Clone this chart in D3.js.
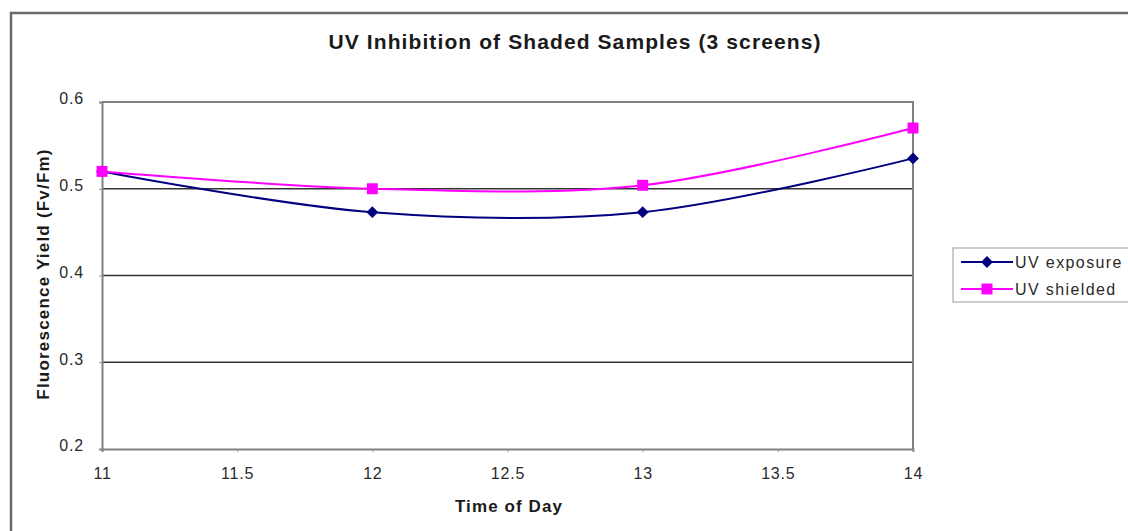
<!DOCTYPE html>
<html><head><meta charset="utf-8">
<script src="https://cdn.jsdelivr.net/npm/d3@7"></script>
<style>body{margin:0;background:#fff;} text{font-family:Arial,"Liberation Sans",sans-serif;}</style>
</head><body>
<svg id="c" width="1128" height="531"></svg>
<script>
const times = [11, 12, 13, 14];
const uvExposure = [0.52, 0.473, 0.473, 0.535];
const uvShielded = [0.52, 0.50, 0.504, 0.570];
const xTicks = [11, 11.5, 12, 12.5, 13, 13.5, 14];
const yTicks = [0.2, 0.3, 0.4, 0.5, 0.6];
const seriesNames = ["UV exposure", "UV shielded"];
const seriesColors = ["#000080", "#ff00ff"];

const FONT = "Arial, 'Liberation Sans', sans-serif";
const svg = d3.select("#c");
const L = 102, R = 913, T = 102, B = 449;
const x = d3.scaleLinear().domain([11, 14]).range([L, R]);
const y = d3.scaleLinear().domain([0.2, 0.6]).range([B, T]);

// outer frame
svg.append("rect").attr("x", 11).attr("y", 13).attr("width", 1130).attr("height", 540)
  .attr("fill", "#fff").attr("stroke", "#6a6a6a").attr("stroke-width", 2.5);

// title
svg.append("text").attr("x", 575).attr("y", 49).attr("text-anchor", "middle")
  .attr("font-size", 21).attr("font-weight", "bold").attr("letter-spacing", 1.1).attr("fill", "#1a1a1a")
  .text("UV Inhibition of Shaded Samples (3 screens)");

// gridlines
svg.append("g").selectAll("line").data(yTicks.filter(d => d > 0.2 && d < 0.6)).join("line")
  .attr("x1", L).attr("x2", R).attr("y1", d => y(d)).attr("y2", d => y(d))
  .attr("stroke", "#333").attr("stroke-width", 1.5);

// plot border (top and right)
svg.append("path").attr("d", `M${L},${T}H${R}V${B}`).attr("fill", "none")
  .attr("stroke", "#808080").attr("stroke-width", 2);

// axes
const xAxis = d3.axisBottom(x).tickValues(xTicks).tickSize(3).tickPadding(16).tickFormat(d => d);
const gx = svg.append("g").attr("transform", `translate(0,${B})`).call(xAxis);
gx.attr("font-size", 16).attr("font-family", FONT);
gx.select(".domain").attr("stroke", "#808080").attr("stroke-width", 2);
gx.selectAll(".tick line").attr("stroke", "#909090");
gx.selectAll("text").attr("font-size", 16).attr("fill", "#2a2a2a").attr("letter-spacing", 0.8);

const yAxis = d3.axisLeft(y).tickValues(yTicks).tickSize(3).tickPadding(15).tickFormat(d3.format(".1f"));
const gy = svg.append("g").attr("transform", `translate(${L},0)`).call(yAxis);
gy.attr("font-size", 16).attr("font-family", FONT);
gy.select(".domain").attr("stroke", "#808080").attr("stroke-width", 2);
gy.selectAll(".tick line").attr("stroke", "#909090");
gy.selectAll("text").attr("font-size", 16).attr("fill", "#2a2a2a").attr("letter-spacing", 0.8)
  .attr("dy", "0.12em");

// axis titles
svg.append("text").attr("x", 509).attr("y", 512).attr("text-anchor", "middle")
  .attr("font-size", 17).attr("font-weight", "bold").attr("letter-spacing", 1.1).attr("fill", "#1a1a1a").text("Time of Day");
svg.append("text").attr("transform", "translate(49,274) rotate(-90)").attr("text-anchor", "middle")
  .attr("font-size", 17).attr("font-weight", "bold").attr("letter-spacing", 1.2).attr("fill", "#1a1a1a").text("Fluorescence Yield (Fv/Fm)");

// lines
const line = d3.line().x((d, i) => x(times[i])).y(d => y(d)).curve(d3.curveCatmullRom.alpha(0.5));
const series = [uvExposure, uvShielded];
series.forEach((vals, si) => {
  svg.append("path").datum(vals).attr("d", line).attr("fill", "none")
    .attr("stroke", seriesColors[si]).attr("stroke-width", 2);
});
// markers
const diamond = d3.symbol().type(d3.symbolDiamond2).size(90);
const square = d3.symbol().type(d3.symbolSquare).size(120);
series.forEach((vals, si) => {
  svg.append("g").selectAll("path").data(vals).join("path")
    .attr("transform", (d, i) => `translate(${x(times[i])},${y(d)})`)
    .attr("d", si === 0 ? diamond : square).attr("fill", seriesColors[si]);
});

// legend
const lg = svg.append("g");
lg.append("rect").attr("x", 953).attr("y", 248).attr("width", 200).attr("height", 54)
  .attr("fill", "#fff").attr("stroke", "#9a9a9a").attr("stroke-width", 1);
seriesNames.forEach((name, i) => {
  const yy = 262 + i * 27;
  lg.append("line").attr("x1", 961).attr("x2", 1013).attr("y1", yy).attr("y2", yy)
    .attr("stroke", seriesColors[i]).attr("stroke-width", 2);
  lg.append("path").attr("transform", `translate(987,${yy})`).attr("d", i === 0 ? diamond : square)
    .attr("fill", seriesColors[i]);
  lg.append("text").attr("x", 1015).attr("y", yy + 6).attr("font-size", 16).attr("letter-spacing", 1.4)
    .attr("fill", "#2a2a2a").text(name);
});
</script>
</body></html>
